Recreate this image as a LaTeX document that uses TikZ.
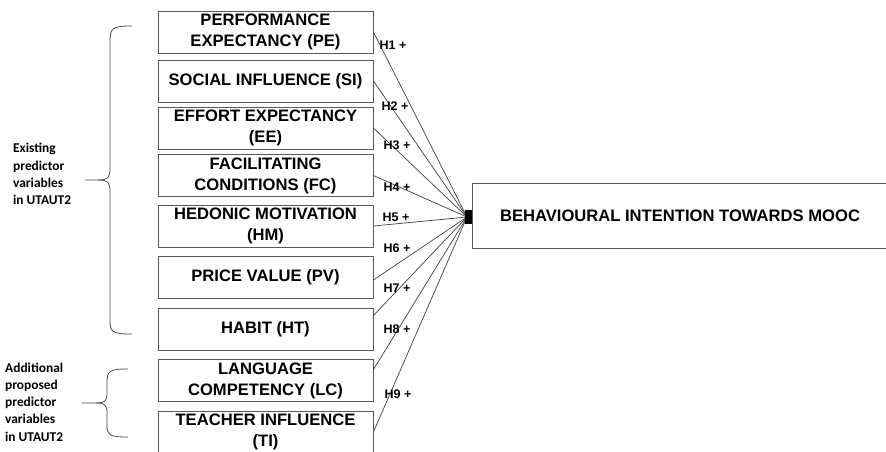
\documentclass[tikz,border=0pt]{standalone}
\usepackage{fontspec}
\setmainfont{Liberation Sans}
\newfontfamily\calib{Carlito}
\usetikzlibrary{calc}
\begin{document}
\begin{tikzpicture}[x=1pt,y=-1pt,
  var/.style={draw=black!65,line width=0.9pt,minimum width=215pt,minimum height=42pt,inner sep=0pt,
    align=center,font=\fontsize{16.6}{21}\selectfont\bfseries},
  hyp/.style={font=\fontsize{12.5}{14}\selectfont\bfseries,inner sep=0pt},
  link/.style={draw=black!75,line width=0.7pt},
  side/.style={font=\fontsize{13.4}{17.2}\selectfont\calib\bfseries,align=left,inner sep=0pt,anchor=west},
  brace/.style={draw=black!70,line width=0.8pt}]
\useasboundingbox (0,0) rectangle (886,451);
\fill[white] (0,0) rectangle (886,451);

\node[var] (PE) at (265.5,32) {PERFORMANCE\\EXPECTANCY (PE)};
\node[var] (SI) at (265.5,81) {SOCIAL INFLUENCE (SI)};
\node[var] (EE) at (265.5,128) {EFFORT EXPECTANCY\\(EE)};
\node[var] (FC) at (265.5,175.5) {FACILITATING\\CONDITIONS (FC)};
\node[var] (HM) at (265.5,226) {HEDONIC MOTIVATION\\(HM)};
\node[var] (PV) at (265.5,277) {PRICE VALUE (PV)};
\node[var] (HT) at (265.5,329.5) {HABIT (HT)};
\node[var] (LC) at (265.5,380.5) {LANGUAGE\\COMPETENCY (LC)};
\node[var] (TI) at (265.5,432) {TEACHER INFLUENCE\\(TI)};

\node[draw=black!65,line width=0.9pt,minimum width=416pt,minimum height=65pt,inner sep=0pt,
  font=\fontsize{16.6}{20}\selectfont\bfseries] (BI) at (680,215.5) {BEHAVIOURAL INTENTION TOWARDS MOOC};
\coordinate (J) at (467,217);

\draw[link] (PE.east) -- (J);
\draw[link] (SI.east) -- (J);
\draw[link] (EE.east) -- (J);
\draw[link] (FC.east) -- (J);
\draw[link] (HM.east) -- (J);
\draw[link] ($(PV.east)+(0,3)$) -- (J);
\draw[link] ($(HT.east)+(0,-14)$) -- (J);
\draw[link] ($(LC.east)+(0,-11)$) -- (J);
\draw[link] (TI.east) -- (J);
\node[fill=black,minimum width=7pt,minimum height=14pt,inner sep=0pt] (JB) at (468.5,217) {};

\node[hyp] (h1) at (393,45) {H1 +};
\node[hyp] (h2) at (395,106) {H2 +};
\node[hyp] (h3) at (397,145) {H3 +};
\node[hyp] (h4) at (397,187) {H4 +};
\node[hyp] (h5) at (396,217) {H5 +};
\node[hyp] (h6) at (397,248) {H6 +};
\node[hyp] (h7) at (397,288) {H7 +};
\node[hyp] (h8) at (397,329) {H8 +};
\node[hyp] (h9) at (398,394) {H9 +};

\draw[brace] (132,26) .. controls (112,26) and (110,28) .. (110,42) -- (110,168)
  .. controls (110,178) and (108,180) .. (98,180) -- (85,180);
\draw[brace] (98,180) .. controls (108,180) and (110,182) .. (110,192) -- (110,320)
  .. controls (110,332) and (112,334) .. (132,334);

\draw[brace] (128,369) .. controls (109,369) and (107,371) .. (107,383) -- (107,393)
  .. controls (107,401) and (105,403) .. (96,403) -- (82,403);
\draw[brace] (96,403) .. controls (105,403) and (107,405) .. (107,413) -- (107,425)
  .. controls (107,435) and (109,437) .. (128,437);

\node[side] (t1) at (13,174) {Existing\\predictor\\variables\\in UTAUT2};
\node[side] (t2) at (5,402) {Additional\\proposed\\predictor\\variables\\in UTAUT2};
\end{tikzpicture}
\end{document}
